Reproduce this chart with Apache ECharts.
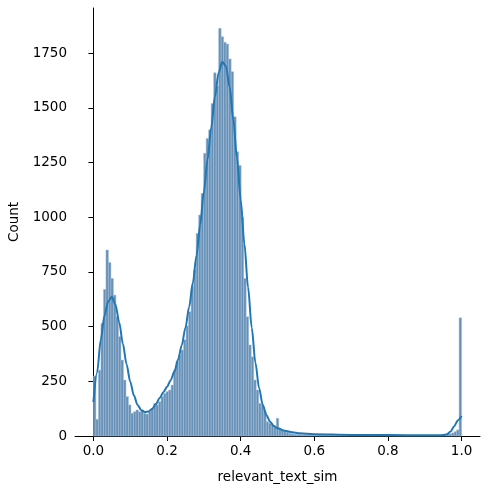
<!DOCTYPE html>
<html>
<head>
<meta charset="utf-8">
<script src="https://cdn.jsdelivr.net/npm/echarts@6/dist/echarts.min.js"></script>
<style>
html, body { margin: 0; padding: 0; background: #fff; }
#chart { width: 490px; height: 489px; }
</style>
</head>
<body>
<div id="chart"></div>
<script>
// histogram counts, bins of equal width from 0 to 1
const binCounts = [
  274, 76, 301, 515, 670, 850, 793, 720, 644, 545,
  454, 347, 256, 180, 142, 104, 111, 119, 111, 119,
  104, 100, 111, 126, 149, 142, 157, 180, 195, 203,
  210, 233, 301, 340, 370, 393, 440, 503, 568, 682,
  759, 926, 1010, 1109, 1292, 1360, 1400, 1520, 1660, 1600,
  1863, 1825, 1799, 1791, 1723, 1665, 1459, 1299, 1236, 1000,
  720, 545, 416, 362, 256, 210, 149, 142, 111, 65,
  58, 50, 43, 81, 35, 27, 20, 17, 12, 10,
  8, 7, 7, 6, 6, 5, 5, 4, 4, 4,
  4, 3, 4, 3, 3, 4, 3, 3, 2, 3,
  3, 2, 3, 3, 2, 2, 3, 2, 3, 2,
  2, 3, 2, 2, 2, 3, 2, 2, 3, 2,
  2, 2, 3, 2, 2, 2, 2, 3, 2, 2,
  2, 3, 2, 2, 3, 2, 3, 3, 4, 5,
  6, 8, 10, 14, 20, 28, 540
];

// kde curve
const kdeX = [0.00, 0.01, 0.02, 0.03, 0.04, 0.05, 0.06, 0.07, 0.08, 0.09,
  0.10, 0.11, 0.12, 0.13, 0.14, 0.15, 0.16, 0.17, 0.18, 0.19,
  0.20, 0.21, 0.22, 0.23, 0.24, 0.25, 0.26, 0.27, 0.28, 0.29,
  0.30, 0.31, 0.32, 0.33, 0.34, 0.35, 0.36, 0.37, 0.38, 0.39,
  0.40, 0.41, 0.42, 0.43, 0.44, 0.45, 0.46, 0.47, 0.48, 0.49,
  0.50, 0.52, 0.54, 0.56, 0.60, 0.70, 0.80, 0.90, 0.94, 0.95,
  0.96, 0.97, 0.98, 0.99, 1.00];
const kdeY = [155, 290, 440, 550, 615, 636, 600, 520, 422, 328,
  248, 185, 142, 118, 110, 112, 125, 146, 174, 200,
  225, 255, 295, 350, 415, 495, 590, 700, 825, 965,
  1115, 1265, 1410, 1550, 1660, 1710, 1690, 1595, 1445, 1270,
  1080, 880, 680, 495, 335, 218, 142, 95, 65, 46,
  35, 24, 17, 12, 8, 5, 4, 3, 3, 4,
  8, 20, 45, 72, 91];

const xTicks = [0, 0.2, 0.4, 0.6, 0.8, 1.0];
const yTicks = [0, 250, 500, 750, 1000, 1250, 1500, 1750];

const binW = 1 / binCounts.length;
const barData = binCounts.map((c, i) => [i * binW, (i + 1) * binW, c]);
const kdeData = kdeX.map((x, i) => [x, kdeY[i]]);

const chart = echarts.init(document.getElementById('chart'), null, { renderer: 'canvas' });
const txt = { color: '#000', fontFamily: 'DejaVu Sans', fontSize: 13.5 };

chart.setOption({
  animation: false,
  grid: { left: 75, top: 8, width: 405, height: 428, containLabel: false, outerBoundsMode: 'none' },
  xAxis: {
    type: 'value', min: -0.05, max: 1.05,
    splitLine: { show: false },
    axisLine: { show: true, lineStyle: { color: '#000', width: 1 } },
    axisTick: { show: true, length: 5, lineStyle: { color: '#000' }, customValues: xTicks },
    axisLabel: Object.assign({ margin: 8, customValues: xTicks, formatter: v => v.toFixed(1) }, txt),
    name: 'relevant_text_sim', nameLocation: 'middle', nameGap: 34,
    nameTextStyle: txt
  },
  yAxis: {
    type: 'value', min: 0, max: 1956,
    splitLine: { show: false },
    axisLine: { show: true, lineStyle: { color: '#000', width: 1 } },
    axisTick: { show: true, length: 5, lineStyle: { color: '#000' }, customValues: yTicks },
    axisLabel: Object.assign({ margin: 8, customValues: yTicks, formatter: v => String(v) }, txt),
    name: 'Count', nameLocation: 'middle', nameGap: 50, nameRotate: 90,
    nameTextStyle: txt
  },
  series: [
    {
      type: 'custom',
      data: barData,
      encode: { x: [0, 1], y: 2 },
      renderItem: function (params, api) {
        const p0 = api.coord([api.value(0), api.value(2)]);
        const p1 = api.coord([api.value(1), 0]);
        return {
          type: 'rect',
          shape: { x: p0[0], y: p0[1], width: p1[0] - p0[0], height: p1[1] - p0[1] },
          style: { fill: '#6890b5', stroke: '#a4c0dc', lineWidth: 0.5 }
        };
      }
    },
    {
      type: 'line',
      data: kdeData,
      smooth: 0.3,
      smoothMonotone: 'x',
      showSymbol: false,
      lineStyle: { color: '#1f77b4', width: 2 }
    }
  ]
});
</script>
</body>
</html>
